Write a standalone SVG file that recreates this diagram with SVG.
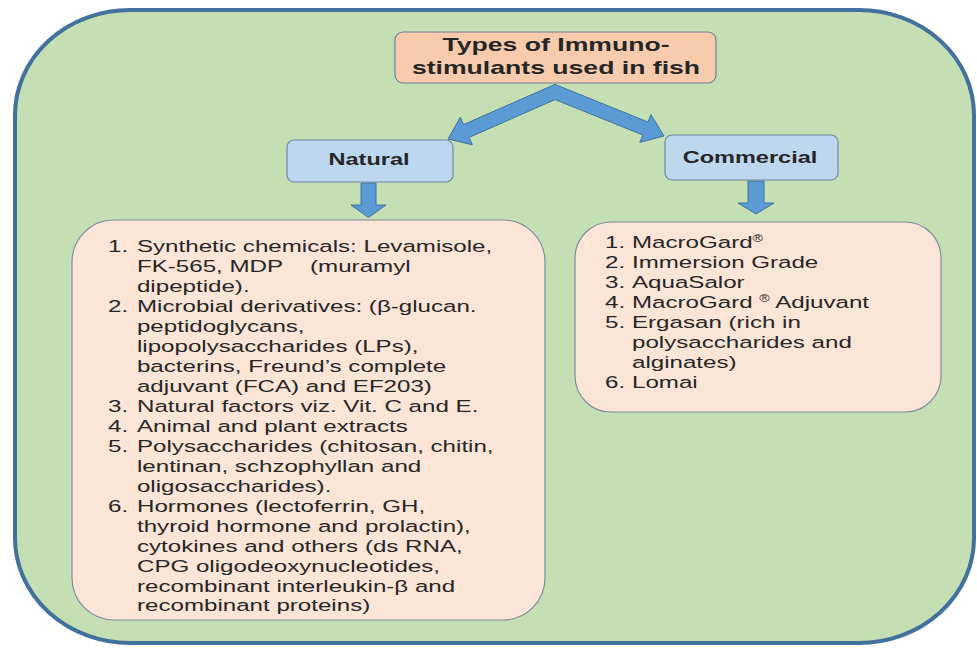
<svg xmlns="http://www.w3.org/2000/svg" width="977" height="651" viewBox="0 0 977 651">
<style>
.t{font-family:"Liberation Sans",Arial,sans-serif;fill:#262626}
.b{font-weight:bold}
.li{font-size:17px}
.sup{font-size:10px}
</style>
<rect x="0" y="0" width="977" height="651" fill="#ffffff"/>
<rect id="frame" x="15" y="10" width="959" height="633" rx="115" ry="105" fill="#C5DFB4" stroke="#41719C" stroke-width="4"/>
<g id="connectors" fill="#5B9BD5" stroke="#41719C" stroke-width="1" stroke-linejoin="miter">
<polygon points="555,84.4 463.5,124.6 460.3,117.3 448,139 472.3,144.7 469.1,137.4 555.1,99.6 642.8,135 639.8,142.4 664,136 651,114.6 648,122"/>
<polygon points="361,183 376,183 376,205 386,205 368.5,217.5 351,205 361,205"/>
<polygon points="748,181 764,181 764,203 774,203 756,214 738,203 748,203"/>
</g>
<g id="title">
<rect x="395" y="32" width="321" height="51" rx="8" fill="#F8CBAD" stroke="#6E7F96" stroke-width="1.2"/>
<g transform="translate(556 0) scale(1.4 1)"><text class="t b" font-size="19" text-anchor="middle" x="0" y="51">Types of Immuno-</text><text class="t b" font-size="19" text-anchor="middle" x="0" y="74">stimulants used in fish</text></g>
</g>
<g id="natural">
<rect x="287" y="140" width="166" height="42" rx="7" fill="#BDD7EE" stroke="#6E88A6" stroke-width="1.2"/>
<g transform="translate(369 0) scale(1.47 1)"><text class="t b" font-size="16" text-anchor="middle" x="0" y="165.5">Natural</text></g>
</g>
<g id="commercial">
<rect x="665" y="135" width="173" height="45" rx="7" fill="#BDD7EE" stroke="#6E88A6" stroke-width="1.2"/>
<g transform="translate(750 0) scale(1.47 1)"><text class="t b" font-size="16" text-anchor="middle" x="0" y="163.5">Commercial</text></g>
</g>
<g id="natural-list">
<rect x="72" y="220" width="473" height="400" rx="42" fill="#FBE5D6" stroke="#7F8C9E" stroke-width="1.2"/>
<g transform="translate(108 0) scale(1.42 1)" class="t li">
<text y="252"><tspan x="0">1.</tspan><tspan x="20.4">Synthetic chemicals: Levamisole,</tspan></text>
<text y="272"><tspan x="20.4">FK-565, MDP</tspan><tspan x="142.3">(muramyl</tspan></text>
<text x="20.4" y="292">dipeptide).</text>
<text y="312"><tspan x="0">2.</tspan><tspan x="20.4">Microbial derivatives: (β-glucan.</tspan></text>
<text x="20.4" y="332">peptidoglycans,</text>
<text x="20.4" y="352">lipopolysaccharides (LPs),</text>
<text x="20.4" y="372">bacterins, Freund’s complete</text>
<text x="20.4" y="392">adjuvant (FCA) and EF203)</text>
<text y="412"><tspan x="0">3.</tspan><tspan x="20.4">Natural factors viz. Vit. C and E.</tspan></text>
<text y="432"><tspan x="0">4.</tspan><tspan x="20.4">Animal and plant extracts</tspan></text>
<text y="452"><tspan x="0">5.</tspan><tspan x="20.4">Polysaccharides (chitosan, chitin,</tspan></text>
<text x="20.4" y="472">lentinan, schzophyllan and</text>
<text x="20.4" y="492">oligosaccharides).</text>
<text y="512"><tspan x="0">6.</tspan><tspan x="20.4">Hormones (lectoferrin, GH,</tspan></text>
<text x="20.4" y="532">thyroid hormone and prolactin),</text>
<text x="20.4" y="552">cytokines and others (ds RNA,</text>
<text x="20.4" y="572">CPG oligodeoxynucleotides,</text>
<text x="20.4" y="592">recombinant interleukin-β and</text>
<text x="20.4" y="611">recombinant proteins)</text>
</g>
</g>
<g id="commercial-list">
<rect x="575" y="222" width="366" height="190" rx="36" fill="#FBE5D6" stroke="#7F8C9E" stroke-width="1.2"/>
<g transform="translate(605 0) scale(1.42 1)" class="t li">
<text y="248"><tspan x="0">1.</tspan><tspan x="19">MacroGard</tspan><tspan class="sup" dy="-6">®</tspan></text>
<text y="268"><tspan x="0">2.</tspan><tspan x="19">Immersion Grade</tspan></text>
<text y="288"><tspan x="0">3.</tspan><tspan x="19">AquaSalor</tspan></text>
<text y="308"><tspan x="0">4.</tspan><tspan x="19">MacroGard </tspan><tspan class="sup" dy="-6">®</tspan><tspan dy="6"> Adjuvant</tspan></text>
<text y="328"><tspan x="0">5.</tspan><tspan x="19">Ergasan (rich in</tspan></text>
<text x="19" y="348">polysaccharides and</text>
<text x="19" y="368">alginates)</text>
<text y="388"><tspan x="0">6.</tspan><tspan x="19">Lomai</tspan></text>
</g>
</g>
</svg>
